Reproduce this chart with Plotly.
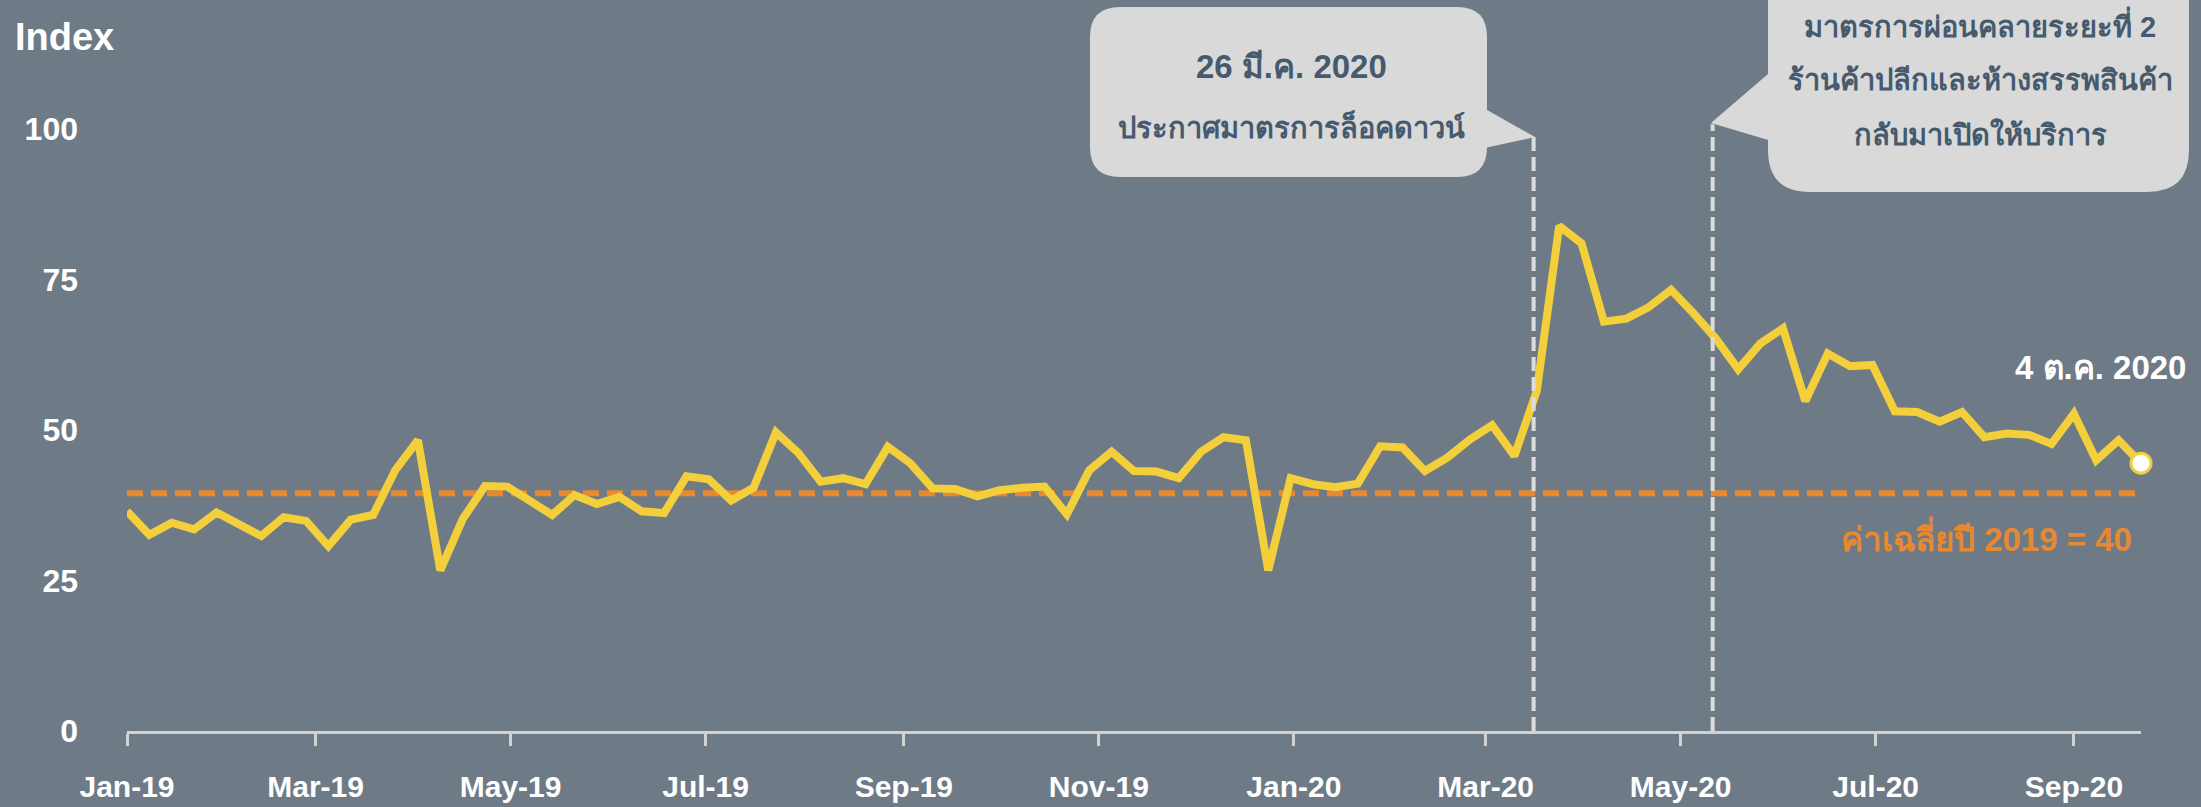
import plotly.graph_objects as go
import pandas as pd

# ---------------- data ----------------
start_date = "2019-01-13"
index_values = [
    36.5, 32.6, 34.6, 33.5, 36.3, 34.2, 32.4, 35.5, 34.9, 30.7,
    35.1, 35.9, 43.4, 48.3, 26.7, 35.2, 40.7, 40.6, 38.4, 35.9,
    39.2, 37.7, 38.9, 36.5, 36.2, 42.3, 41.8, 38.3, 40.4, 49.6,
    46.2, 41.4, 42.0, 41.0, 47.2, 44.5, 40.3, 40.2, 39.0, 40.0,
    40.4, 40.6, 36.0, 43.3, 46.4, 43.2, 43.1, 42.0, 46.4, 48.8,
    48.3, 26.7, 42.0, 41.0, 40.5, 41.1, 47.3, 47.1, 43.2, 45.4,
    48.4, 50.8, 45.7, 56.5, 83.9, 81.0, 68.0, 68.5, 70.4, 73.3,
    69.4, 65.2, 60.1, 64.4, 66.9, 54.8, 62.7, 60.6, 60.8, 53.1,
    53.0, 51.4, 53.0, 48.8, 49.4, 49.2, 47.7, 52.7, 45.0, 48.3,
    44.5,
]
dates = pd.date_range(start_date, periods=len(index_values), freq="7D")

avg_2019 = 39.5
avg_label = "ค่าเฉลี่ยปี 2019 = 40"
end_label = "4 ต.ค. 2020"
y_title = "Index"
y_ticks = [0, 25, 50, 75, 100]

event_dates = ["2020-03-28", "2020-05-23"]
event_tops = [98.7, 100.8]
callout1_lines = ["26 มี.ค. 2020", "ประกาศมาตรการล็อคดาวน์"]
callout2_lines = ["มาตรการผ่อนคลายระยะที่ 2", "ร้านค้าปลีกและห้างสรรพสินค้า", "กลับมาเปิดให้บริการ"]

# ---------------- style ----------------
BG = "#6e7b86"
YELLOW = "#f2cf3b"
ORANGE = "#e8892f"
AXIS = "#d2d2d2"
BOX = "#d9d9d9"
BOXTEXT = "#465a6e"
FONT = "Liberation Sans, Arial, sans-serif"

W, H = 2201, 807
PL, PR, PT, PB = 127, 2141, 117, 731


def px(x):
    return (x - PL) / (PR - PL)


def py(y):
    return (PB - y) / (PB - PT)


fig = go.Figure()

# 2019 average dashed line
fig.add_trace(go.Scatter(
    x=[dates[0], dates[-1]], y=[avg_2019, avg_2019], mode="lines",
    line=dict(color=ORANGE, width=6, dash="16px,8px"), hoverinfo="skip",
))
# main series
fig.add_trace(go.Scatter(
    x=dates, y=index_values, mode="lines",
    line=dict(color=YELLOW, width=8), hoverinfo="skip",
))
# end marker
fig.add_trace(go.Scatter(
    x=[dates[-1]], y=[index_values[-1]], mode="markers",
    marker=dict(size=20, color="white", line=dict(color=YELLOW, width=3)),
    cliponaxis=False, hoverinfo="skip",
))

shapes = []
# vertical event lines
for d, top in zip(event_dates, event_tops):
    shapes.append(dict(type="line", xref="x", yref="y", x0=d, x1=d, y0=0, y1=top,
                       line=dict(color="#dcdcdc", width=4, dash="14px,6px"), layer="above"))


def rounded_rect(x0, y0, x1, y1, r):
    def P(x, y):
        return f"{px(x):.5f},{py(y):.5f}"
    return (f"M {P(x0 + r, y0)} L {P(x1 - r, y0)} Q {P(x1, y0)} {P(x1, y0 + r)} "
            f"L {P(x1, y1 - r)} Q {P(x1, y1)} {P(x1 - r, y1)} "
            f"L {P(x0 + r, y1)} Q {P(x0, y1)} {P(x0, y1 - r)} "
            f"L {P(x0, y0 + r)} Q {P(x0, y0)} {P(x0 + r, y0)} Z")


def poly(points):
    return "M " + " L ".join(f"{px(x):.5f},{py(y):.5f}" for x, y in points) + " Z"


# callout 1
shapes.append(dict(type="path", xref="paper", yref="paper", path=rounded_rect(1090, 7, 1487, 177, 30),
                   fillcolor=BOX, line=dict(width=0), layer="above"))
shapes.append(dict(type="path", xref="paper", yref="paper",
                   path=poly([(1480, 106), (1535, 137), (1480, 149)]),
                   fillcolor=BOX, line=dict(width=0), layer="above"))
# callout 2
shapes.append(dict(type="path", xref="paper", yref="paper", path=rounded_rect(1768, -60, 2189, 192, 42),
                   fillcolor=BOX, line=dict(width=0), layer="above"))
shapes.append(dict(type="path", xref="paper", yref="paper",
                   path=poly([(1775, 68), (1711, 123), (1775, 142)]),
                   fillcolor=BOX, line=dict(width=0), layer="above"))

annotations = []
annotations.append(dict(text=f"<b>{y_title}</b>", xref="paper", yref="paper", x=px(13), y=py(37),
                        xanchor="left", yanchor="middle", showarrow=False,
                        font=dict(family=FONT, size=38, color="white")))
c1_sizes = [33, 29]
for i, t in enumerate(callout1_lines):
    annotations.append(dict(text=f"<b>{t}</b>", xref="paper", yref="paper", x=px(1291), y=py([67, 127][i]),
                            xanchor="center", yanchor="middle", showarrow=False,
                            font=dict(family=FONT, size=c1_sizes[i], color=BOXTEXT)))
for i, t in enumerate(callout2_lines):
    annotations.append(dict(text=f"<b>{t}</b>", xref="paper", yref="paper", x=px(1980), y=py([25, 80, 134][i]),
                            xanchor="center", yanchor="middle", showarrow=False,
                            font=dict(family=FONT, size=29, color=BOXTEXT)))
annotations.append(dict(text=f"<b>{end_label}</b>", xref="paper", yref="paper", x=px(2188), y=py(367),
                        xanchor="right", yanchor="middle", showarrow=False,
                        font=dict(family=FONT, size=33, color="white")))
annotations.append(dict(text=f"<b>{avg_label}</b>", xref="paper", yref="paper", x=px(2134), y=py(537),
                        xanchor="right", yanchor="middle", showarrow=False,
                        font=dict(family=FONT, size=33, color=ORANGE)))

fig.update_layout(
    width=W, height=H,
    margin=dict(l=PL, r=W - PR, t=PT, b=H - PB, pad=0, autoexpand=False),
    paper_bgcolor=BG, plot_bgcolor=BG,
    showlegend=False,
    shapes=shapes, annotations=annotations,
    font=dict(family=FONT, color="white"),
)
fig.update_xaxes(
    type="date", range=[dates[0], dates[-1]], automargin=False,
    tick0=start_date, dtick="M2", tickformat="<b>%b-%y</b>",
    showgrid=False, zeroline=False,
    showline=True, linecolor=AXIS, linewidth=3,
    ticks="outside", ticklen=12, tickwidth=3, tickcolor=AXIS,
    tickfont=dict(family=FONT, size=30, color="white"),
    ticklabelstandoff=15,
)
fig.update_yaxes(
    range=[0, 102], tickvals=y_ticks, ticktext=[f"<b>{v}</b>" for v in y_ticks],
    automargin=False,
    showgrid=False, zeroline=False, showline=False,
    tickfont=dict(family=FONT, size=32, color="white"),
    ticklabelstandoff=48,
)

fig.write_html("out.html")
